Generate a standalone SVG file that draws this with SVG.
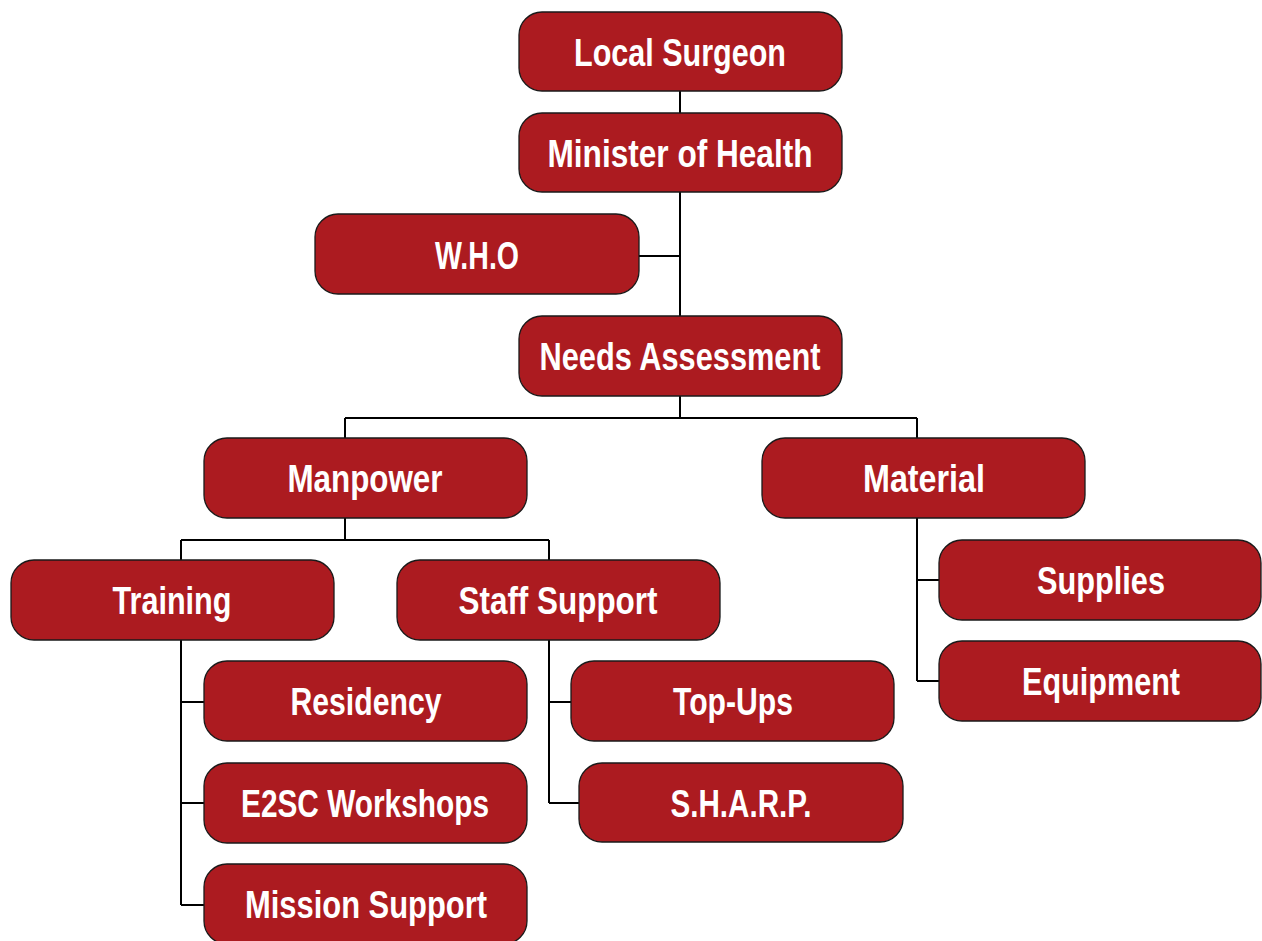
<svg xmlns="http://www.w3.org/2000/svg" width="1262" height="941" viewBox="0 0 1262 941">
<style>
.box{fill:#AC1B20;stroke:#1a1a1a;stroke-width:1.3}
.lbl{fill:#ffffff;font-family:"Liberation Sans Narrow","Liberation Sans",Arial,sans-serif;font-weight:bold;font-size:38px;text-anchor:middle}
.conn{fill:none;stroke:#000;stroke-width:2}
</style>
<rect width="1262" height="941" fill="#ffffff"/>
<g id="connectors">
<path class="conn" d="M680 91V113M680 192V316M639 256H680M680 396V418M345 418H917M345 418V438M917 418V438"/>
<path class="conn" d="M345 518V540M181 540H549M181 540V560M549 540V560"/>
<path class="conn" d="M181 640V905M181 702H204M181 803H204M181 905H204"/>
<path class="conn" d="M549 640V803M549 702H571M549 803H579"/>
<path class="conn" d="M917 518V681M917 580H939M917 681H939"/>
</g>
<g id="local-surgeon"><rect class="box" x="519" y="12" width="323" height="79" rx="23"/><text class="lbl" x="680" y="66" textLength="212" lengthAdjust="spacingAndGlyphs">Local Surgeon</text></g>
<g id="minister-of-health"><rect class="box" x="519" y="113" width="323" height="79" rx="23"/><text class="lbl" x="680" y="167" textLength="265" lengthAdjust="spacingAndGlyphs">Minister of Health</text></g>
<g id="who"><rect class="box" x="315" y="214" width="324" height="80" rx="23"/><text class="lbl" x="477" y="269" textLength="84" lengthAdjust="spacingAndGlyphs">W.H.O</text></g>
<g id="needs-assessment"><rect class="box" x="519" y="316" width="323" height="80" rx="23"/><text class="lbl" x="680" y="370" textLength="281" lengthAdjust="spacingAndGlyphs">Needs Assessment</text></g>
<g id="manpower"><rect class="box" x="204" y="438" width="323" height="80" rx="23"/><text class="lbl" x="365" y="492" textLength="155" lengthAdjust="spacingAndGlyphs">Manpower</text></g>
<g id="material"><rect class="box" x="762" y="438" width="323" height="80" rx="23"/><text class="lbl" x="924" y="492" textLength="122" lengthAdjust="spacingAndGlyphs">Material</text></g>
<g id="training"><rect class="box" x="11" y="560" width="323" height="80" rx="23"/><text class="lbl" x="172" y="614" textLength="119" lengthAdjust="spacingAndGlyphs">Training</text></g>
<g id="staff-support"><rect class="box" x="397" y="560" width="323" height="80" rx="23"/><text class="lbl" x="558" y="614" textLength="199" lengthAdjust="spacingAndGlyphs">Staff Support</text></g>
<g id="supplies"><rect class="box" x="939" y="540" width="322" height="80" rx="23"/><text class="lbl" x="1101" y="594" textLength="128" lengthAdjust="spacingAndGlyphs">Supplies</text></g>
<g id="equipment"><rect class="box" x="939" y="641" width="322" height="80" rx="23"/><text class="lbl" x="1101" y="695" textLength="158" lengthAdjust="spacingAndGlyphs">Equipment</text></g>
<g id="residency"><rect class="box" x="204" y="661" width="323" height="80" rx="23"/><text class="lbl" x="366" y="715" textLength="151" lengthAdjust="spacingAndGlyphs">Residency</text></g>
<g id="top-ups"><rect class="box" x="571" y="661" width="323" height="80" rx="23"/><text class="lbl" x="733" y="715" textLength="120" lengthAdjust="spacingAndGlyphs">Top-Ups</text></g>
<g id="e2sc-workshops"><rect class="box" x="204" y="763" width="323" height="80" rx="23"/><text class="lbl" x="365" y="817" textLength="248" lengthAdjust="spacingAndGlyphs">E2SC Workshops</text></g>
<g id="sharp"><rect class="box" x="579" y="763" width="324" height="79" rx="23"/><text class="lbl" x="741" y="817" textLength="141" lengthAdjust="spacingAndGlyphs">S.H.A.R.P.</text></g>
<g id="mission-support"><rect class="box" x="204" y="864" width="323" height="80" rx="23"/><text class="lbl" x="366" y="918" textLength="242" lengthAdjust="spacingAndGlyphs">Mission Support</text></g>
</svg>
